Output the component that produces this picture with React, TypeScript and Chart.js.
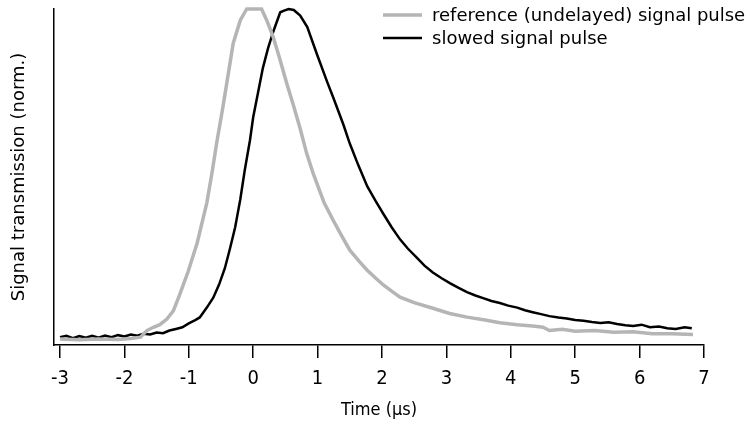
import { useEffect, useRef } from 'react';
import { Chart, registerables } from 'chart.js';

Chart.register(...registerables);

// Reference (undelayed) signal pulse
const referenceTime = [
  -3.0, -2.7, -2.4, -2.1, -1.9, -1.75, -1.65, -1.55, -1.45, -1.34, -1.24, -1.14, -1.01, -0.87,
  -0.72, -0.64, -0.56, -0.48, -0.41, -0.31, -0.2, -0.1, 0.0, 0.13, 0.21, 0.31, 0.41, 0.52, 0.62,
  0.73, 0.83, 0.93, 1.1, 1.24, 1.37, 1.5, 1.65, 1.77, 1.9, 2.02, 2.15, 2.28, 2.5, 2.79, 3.05,
  3.32, 3.6, 3.83, 4.1, 4.34, 4.5, 4.6, 4.8, 5.0, 5.3, 5.6, 5.9, 6.2, 6.5, 6.83,
];
const referenceSignal = [
  -0.006, -0.008, -0.006, -0.007, -0.004, 0.0, 0.02, 0.03, 0.038, 0.055, 0.08, 0.13, 0.2, 0.287,
  0.409, 0.5, 0.6, 0.69, 0.774, 0.896, 0.966, 1.0, 1.0, 1.0, 0.966, 0.915, 0.85, 0.774, 0.71,
  0.635, 0.56, 0.5, 0.41, 0.357, 0.31, 0.265, 0.23, 0.204, 0.18, 0.159, 0.14, 0.122, 0.105, 0.088, 0.072,
  0.061, 0.052, 0.044, 0.038, 0.034, 0.03, 0.02, 0.024, 0.018, 0.02, 0.015, 0.016, 0.01, 0.01, 0.008,
];

// Slowed signal pulse
const slowedTime = [
  -3.0, -2.9, -2.8, -2.7, -2.6, -2.5, -2.4, -2.3, -2.2, -2.1, -2.0, -1.9, -1.8, -1.7, -1.6, -1.5,
  -1.4, -1.3, -1.2, -1.1, -1.0, -0.9, -0.83, -0.72, -0.62, -0.53, -0.44, -0.36, -0.28, -0.2, -0.13,
  -0.05, 0.0, 0.08, 0.15, 0.23, 0.31, 0.42, 0.48, 0.55, 0.63, 0.73, 0.84, 0.99, 1.15, 1.24, 1.4,
  1.5, 1.63, 1.77, 1.9, 2.02, 2.15, 2.28, 2.4, 2.54, 2.66, 2.79, 2.92, 3.06, 3.19, 3.32, 3.45, 3.57,
  3.7, 3.83, 3.96, 4.1, 4.22, 4.34, 4.47, 4.6, 4.74, 4.87, 5.0, 5.13, 5.26, 5.39, 5.52, 5.65, 5.78,
  5.9, 6.03, 6.16, 6.3, 6.43, 6.56, 6.7, 6.81,
];
const slowedSignal = [
  0.0, 0.004, -0.003, 0.003, -0.002, 0.004, -0.002, 0.005, 0.0, 0.006, 0.002, 0.008, 0.004, 0.01, 0.008, 0.014,
  0.012, 0.02, 0.025, 0.03, 0.042, 0.052, 0.06, 0.09, 0.12, 0.16, 0.21, 0.27, 0.335, 0.42, 0.51,
  0.6, 0.67, 0.75, 0.82, 0.88, 0.93, 0.99, 0.995, 1.0, 0.997, 0.98, 0.945, 0.862, 0.777, 0.732, 0.648,
  0.59, 0.525, 0.46, 0.415, 0.376, 0.335, 0.298, 0.27, 0.242, 0.218, 0.197, 0.18, 0.164, 0.15, 0.137, 0.127, 0.119,
  0.11, 0.104, 0.096, 0.09, 0.082, 0.076, 0.07, 0.064, 0.06, 0.057, 0.052, 0.05, 0.046, 0.043, 0.045, 0.04, 0.036,
  0.034, 0.038, 0.03, 0.032, 0.027, 0.025, 0.03, 0.027,
];

const xTickValues = [-3, -2, -1, 0, 1, 2, 3, 4, 5, 6, 7];
const seriesLabels = ['reference (undelayed) signal pulse', 'slowed signal pulse'];
const seriesColors = ['#b5b5b5', '#000000'];

const narrowFont = '"Liberation Sans Narrow", "DejaVu Sans Condensed", "Liberation Sans", Arial, sans-serif';
const wideFont = '"DejaVu Sans", Verdana, sans-serif';

const insetLegend = {
  id: 'insetLegend',
  afterDraw(chart: any) {
    const ctx = chart.ctx as CanvasRenderingContext2D;
    ctx.save();
    ctx.font = '18px ' + wideFont;
    ctx.textBaseline = 'middle';
    ctx.textAlign = 'left';
    chart.data.datasets.forEach((ds: any, i: number) => {
      const y = 15 + i * 23;
      ctx.strokeStyle = ds.borderColor;
      ctx.lineWidth = ds.borderWidth;
      ctx.beginPath();
      ctx.moveTo(383, y);
      ctx.lineTo(422, y);
      ctx.stroke();
      ctx.fillStyle = '#000';
      ctx.fillText(ds.label, 432, y + 1);
    });
    ctx.restore();
  },
};

export default function App() {
  const canvasRef = useRef<HTMLCanvasElement | null>(null);

  useEffect(() => {
    if (!canvasRef.current) return;
    const chart = new Chart(canvasRef.current, {
      type: 'line',
      data: {
        datasets: [
          {
            label: seriesLabels[0],
            data: referenceTime.map((t, i) => ({ x: t, y: referenceSignal[i] })),
            borderColor: seriesColors[0],
            borderWidth: 3.5,
            pointRadius: 0,
            tension: 0,
            clip: false as any,
          },
          {
            label: seriesLabels[1],
            data: slowedTime.map((t, i) => ({ x: t, y: slowedSignal[i] })),
            borderColor: seriesColors[1],
            borderWidth: 2.5,
            pointRadius: 0,
            tension: 0,
            clip: false as any,
          },
        ],
      },
      options: {
        animation: false,
        responsive: true,
        maintainAspectRatio: false,
        layout: { padding: { top: 9, right: 46, left: 0, bottom: 0 } },
        plugins: { legend: { display: false }, tooltip: { enabled: false } },
        scales: {
          x: {
            type: 'linear',
            min: -3.093,
            max: 7,
            afterBuildTicks: (scale: any) => {
              scale.ticks = xTickValues.map((v) => ({ value: v }));
            },
            afterFit: (scale: any) => {
              scale.height = 79;
            },
            ticks: {
              color: '#000',
              font: { family: narrowFont, size: 20 },
              padding: 9,
              maxRotation: 0,
              autoSkip: false,
            },
            grid: {
              display: true,
              drawOnChartArea: false,
              drawTicks: true,
              tickLength: 13,
              color: '#000',
              lineWidth: 1.5,
            },
            border: { display: true, color: '#000', width: 1.5 },
            title: {
              display: true,
              text: 'Time (μs)',
              color: '#000',
              font: { family: narrowFont, size: 18 },
              padding: { top: 0, bottom: 3 },
            },
          },
          y: {
            type: 'linear',
            min: -0.024,
            max: 1.0,
            afterFit: (scale: any) => {
              scale.width = 54;
            },
            ticks: { display: false },
            grid: { display: false, drawTicks: false },
            border: { display: true, color: '#000', width: 1.5 },
            title: {
              display: true,
              text: 'Signal transmission (norm.)',
              color: '#000',
              font: { family: wideFont, size: 18 },
              padding: { top: 9, bottom: 0 },
            },
          },
        },
      },
      plugins: [insetLegend],
    });
    return () => chart.destroy();
  }, []);

  return (
    <div style={{ position: 'fixed', left: 0, top: 0, width: 750, height: 424 }}>
      <canvas ref={canvasRef} />
    </div>
  );
}
